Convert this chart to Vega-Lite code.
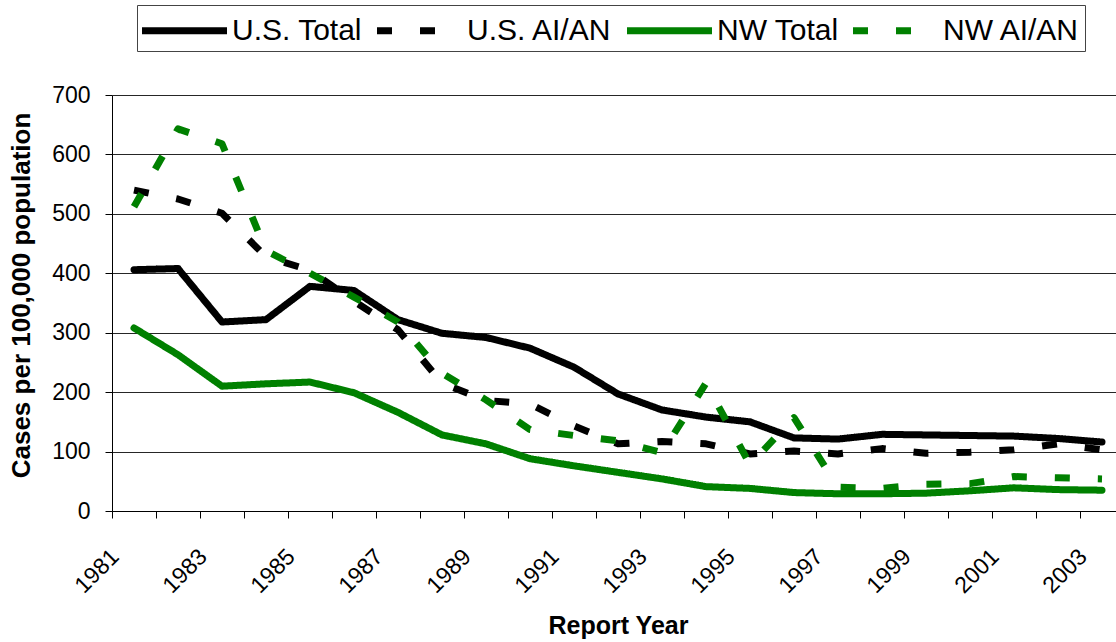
{
  "$schema": "https://vega.github.io/schema/vega-lite/v6.json",
  "width": 1004,
  "height": 416,
  "autosize": {"type": "none"},
  "padding": {"left": 112, "top": 95, "right": 0, "bottom": 131},
  "background": "white",
  "config": {
    "font": "Liberation Sans",
    "view": {"stroke": null}
  },
  "datasets": {
    "rates": [
      {"year": 1981, "series": "U.S. Total", "value": 406},
      {"year": 1982, "series": "U.S. Total", "value": 408},
      {"year": 1983, "series": "U.S. Total", "value": 318},
      {"year": 1984, "series": "U.S. Total", "value": 322},
      {"year": 1985, "series": "U.S. Total", "value": 378},
      {"year": 1986, "series": "U.S. Total", "value": 371},
      {"year": 1987, "series": "U.S. Total", "value": 322},
      {"year": 1988, "series": "U.S. Total", "value": 299},
      {"year": 1989, "series": "U.S. Total", "value": 292},
      {"year": 1990, "series": "U.S. Total", "value": 274},
      {"year": 1991, "series": "U.S. Total", "value": 242},
      {"year": 1992, "series": "U.S. Total", "value": 197},
      {"year": 1993, "series": "U.S. Total", "value": 170},
      {"year": 1994, "series": "U.S. Total", "value": 158},
      {"year": 1995, "series": "U.S. Total", "value": 150},
      {"year": 1996, "series": "U.S. Total", "value": 123},
      {"year": 1997, "series": "U.S. Total", "value": 121},
      {"year": 1998, "series": "U.S. Total", "value": 129},
      {"year": 1999, "series": "U.S. Total", "value": 128},
      {"year": 2000, "series": "U.S. Total", "value": 127},
      {"year": 2001, "series": "U.S. Total", "value": 126},
      {"year": 2002, "series": "U.S. Total", "value": 122},
      {"year": 2003, "series": "U.S. Total", "value": 116},
      {"year": 1981, "series": "U.S. AI/AN", "value": 540},
      {"year": 1982, "series": "U.S. AI/AN", "value": 525},
      {"year": 1983, "series": "U.S. AI/AN", "value": 501},
      {"year": 1984, "series": "U.S. AI/AN", "value": 428},
      {"year": 1985, "series": "U.S. AI/AN", "value": 405},
      {"year": 1986, "series": "U.S. AI/AN", "value": 353},
      {"year": 1987, "series": "U.S. AI/AN", "value": 305},
      {"year": 1988, "series": "U.S. AI/AN", "value": 215},
      {"year": 1989, "series": "U.S. AI/AN", "value": 186},
      {"year": 1990, "series": "U.S. AI/AN", "value": 180},
      {"year": 1991, "series": "U.S. AI/AN", "value": 143},
      {"year": 1992, "series": "U.S. AI/AN", "value": 113},
      {"year": 1993, "series": "U.S. AI/AN", "value": 117},
      {"year": 1994, "series": "U.S. AI/AN", "value": 113},
      {"year": 1995, "series": "U.S. AI/AN", "value": 96},
      {"year": 1996, "series": "U.S. AI/AN", "value": 101},
      {"year": 1997, "series": "U.S. AI/AN", "value": 96},
      {"year": 1998, "series": "U.S. AI/AN", "value": 105},
      {"year": 1999, "series": "U.S. AI/AN", "value": 97},
      {"year": 2000, "series": "U.S. AI/AN", "value": 99},
      {"year": 2001, "series": "U.S. AI/AN", "value": 103},
      {"year": 2002, "series": "U.S. AI/AN", "value": 113},
      {"year": 2003, "series": "U.S. AI/AN", "value": 103},
      {"year": 1981, "series": "NW Total", "value": 308},
      {"year": 1982, "series": "NW Total", "value": 263},
      {"year": 1983, "series": "NW Total", "value": 210},
      {"year": 1984, "series": "NW Total", "value": 214},
      {"year": 1985, "series": "NW Total", "value": 217},
      {"year": 1986, "series": "NW Total", "value": 199},
      {"year": 1987, "series": "NW Total", "value": 166},
      {"year": 1988, "series": "NW Total", "value": 128},
      {"year": 1989, "series": "NW Total", "value": 113},
      {"year": 1990, "series": "NW Total", "value": 88},
      {"year": 1991, "series": "NW Total", "value": 76},
      {"year": 1992, "series": "NW Total", "value": 65},
      {"year": 1993, "series": "NW Total", "value": 54},
      {"year": 1994, "series": "NW Total", "value": 41},
      {"year": 1995, "series": "NW Total", "value": 38},
      {"year": 1996, "series": "NW Total", "value": 31},
      {"year": 1997, "series": "NW Total", "value": 29},
      {"year": 1998, "series": "NW Total", "value": 29},
      {"year": 1999, "series": "NW Total", "value": 30},
      {"year": 2000, "series": "NW Total", "value": 34},
      {"year": 2001, "series": "NW Total", "value": 39},
      {"year": 2002, "series": "NW Total", "value": 36},
      {"year": 2003, "series": "NW Total", "value": 35},
      {"year": 1981, "series": "NW AI/AN", "value": 512},
      {"year": 1982, "series": "NW AI/AN", "value": 643},
      {"year": 1983, "series": "NW AI/AN", "value": 618},
      {"year": 1984, "series": "NW AI/AN", "value": 438},
      {"year": 1985, "series": "NW AI/AN", "value": 400},
      {"year": 1986, "series": "NW AI/AN", "value": 360},
      {"year": 1987, "series": "NW AI/AN", "value": 318},
      {"year": 1988, "series": "NW AI/AN", "value": 232},
      {"year": 1989, "series": "NW AI/AN", "value": 187},
      {"year": 1990, "series": "NW AI/AN", "value": 137},
      {"year": 1991, "series": "NW AI/AN", "value": 127},
      {"year": 1992, "series": "NW AI/AN", "value": 118},
      {"year": 1993, "series": "NW AI/AN", "value": 98},
      {"year": 1994, "series": "NW AI/AN", "value": 215},
      {"year": 1995, "series": "NW AI/AN", "value": 78},
      {"year": 1996, "series": "NW AI/AN", "value": 157},
      {"year": 1997, "series": "NW AI/AN", "value": 40},
      {"year": 1998, "series": "NW AI/AN", "value": 38},
      {"year": 1999, "series": "NW AI/AN", "value": 45},
      {"year": 2000, "series": "NW AI/AN", "value": 46},
      {"year": 2001, "series": "NW AI/AN", "value": 58},
      {"year": 2002, "series": "NW AI/AN", "value": 56},
      {"year": 2003, "series": "NW AI/AN", "value": 54}
    ]
  },
  "data": {"name": "rates"},
  "encoding": {
    "x": {
      "field": "year",
      "type": "ordinal",
      "scale": {"type": "band", "paddingInner": 0, "paddingOuter": 0, "range": [0, 1012]},
      "axis": {
        "title": "Report Year",
        "titleFont": "Liberation Sans",
        "titleFontSize": 25,
        "titleFontWeight": "bold",
        "titleColor": "black",
        "titlePadding": 16,
        "labelFont": "Liberation Sans",
        "labelFontSize": 23,
        "labelColor": "black",
        "labelAngle": -45,
        "labelPadding": 27,
        "labelOffset": -27,
        "labelExpr": "datum.value % 2 == 1 ? datum.label : ''",
        "labelOverlap": false,
        "tickBand": "extent",
        "tickSize": 7,
        "tickColor": "black",
        "domainColor": "black",
        "domainWidth": 1,
        "grid": false
      }
    },
    "y": {
      "field": "value",
      "type": "quantitative",
      "scale": {"domain": [0, 700], "nice": false},
      "axis": {
        "title": "Cases per 100,000 population",
        "titleFont": "Liberation Sans",
        "titleFontSize": 26,
        "titleFontWeight": "bold",
        "titleColor": "black",
        "titlePadding": 17,
        "titleY": 200,
        "labelFont": "Liberation Sans",
        "labelFontSize": 23,
        "labelColor": "black",
        "labelPadding": 15,
        "values": [0, 100, 200, 300, 400, 500, 600, 700],
        "tickSize": 7,
        "tickColor": "black",
        "domainColor": "black",
        "grid": true,
        "gridColor": "black",
        "gridWidth": 1,
        "gridOpacity": 0.85
      }
    },
    "color": {
      "field": "series",
      "type": "nominal",
      "scale": {
        "domain": ["U.S. Total", "U.S. AI/AN", "NW Total", "NW AI/AN"],
        "range": ["#000000", "#000000", "#008000", "#008000"]
      },
      "legend": {
        "title": null,
        "orient": "none",
        "legendX": 25,
        "legendY": -90,
        "direction": "horizontal",
        "columns": 4,
        "columnPadding": 0,
        "symbolType": "M-2.5,0H2.5",
        "symbolSize": 1156,
        "symbolStrokeWidth": 7,
        "symbolOffset": 22,
        "labelFont": "Liberation Sans",
        "labelFontSize": 30,
        "labelColor": "black",
        "labelOffset": 27,
        "labelLimit": 400,
        "padding": 5,
        "strokeColor": "#444444",
        "fillColor": "white"
      }
    },
    "strokeDash": {
      "field": "series",
      "type": "nominal",
      "scale": {
        "domain": ["U.S. Total", "U.S. AI/AN", "NW Total", "NW AI/AN"],
        "range": [[1, 0], [15, 28], [1, 0], [15, 28]]
      },
      "legend": null
    }
  },
  "layer": [
    {
      "transform": [{"filter": "indexof(datum.series, 'Total') >= 0"}],
      "mark": {"type": "line", "strokeWidth": 7, "strokeCap": "round", "strokeJoin": "round"}
    },
    {
      "transform": [{"filter": "indexof(datum.series, 'AI/AN') >= 0"}],
      "mark": {"type": "line", "strokeWidth": 7, "strokeCap": "butt", "strokeJoin": "round"}
    }
  ]
}
